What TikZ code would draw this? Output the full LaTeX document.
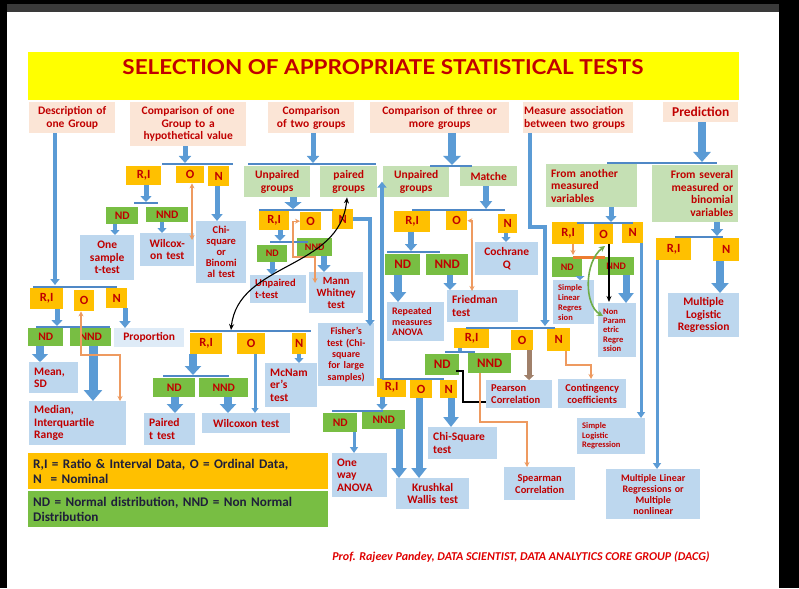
\documentclass[tikz,border=0pt]{standalone}
\usepackage{fontspec}
\setmainfont{Carlito}
\newfontfamily\titlefont{Lato}
\usetikzlibrary{arrows.meta}
\definecolor{peach}{HTML}{FBE5D6}
\definecolor{org}{HTML}{FFC000}
\definecolor{grn}{HTML}{78BE43}
\definecolor{lgrn}{HTML}{C5E0B4}
\definecolor{lblu}{HTML}{BDD7EE}
\definecolor{llblu}{HTML}{DEEBF7}
\definecolor{dred}{HTML}{C00000}
\definecolor{fred}{HTML}{E00000}
\definecolor{ablu}{HTML}{5B9BD5}
\definecolor{barc}{HTML}{4F88C6}
\definecolor{oar}{HTML}{EE9A60}
\definecolor{obar}{HTML}{ED7D31}
\definecolor{ylw}{HTML}{FFFF00}
\definecolor{brn}{HTML}{A0806A}
\definecolor{legc}{HTML}{1F1F3A}
\definecolor{tgray}{HTML}{3A3A3A}
\definecolor{cgrn}{HTML}{70AD47}
\newcommand\fs[2]{\fontsize{#1}{#2}\selectfont\bfseries}
\tikzset{
  box/.style={draw=none,inner xsep=5pt,inner ysep=0pt,text=dred,font=\fs{11.5}{12.5},align=center},
  bb/.style={box,fill=lblu},
  hb/.style={fill=peach},
  lg/.style={fill=lgrn},
  ob/.style={box,fill=org,font=\fs{12.5}{13}},
  gb/.style={fill=grn,font=\fs{11.5}{12}},
  ab/.style n args={3}{draw=ablu,line width=#1pt,-{Triangle[width=#2pt,length=#3pt]}},
  hbr/.style={draw=barc,line width=2.4pt},
  orar/.style={draw=oar,line width=1.3pt,{Stealth[length=5pt,width=5pt]}-{Stealth[length=5pt,width=5pt]}},
  orar1/.style={draw=oar,line width=1.3pt,-{Stealth[length=5pt,width=5pt]}},
}
\newcommand\mybox[7][]{%
  \pgfmathsetmacro\mybw{#5-#3}\pgfmathsetmacro\mybh{#6-#4}\pgfmathsetmacro\mytw{#5-#3-10}%
  \node[bb,anchor=north west,minimum width=\mybw pt,minimum height=\mybh pt,text width=\mytw pt,#1] (#2) at (#3,#4) {#7};}
\newcommand\lbl[7][]{%
  \pgfmathsetmacro\mybw{#5-#3}\pgfmathsetmacro\mybh{#6-#4}%
  \node[ob,anchor=north west,minimum width=\mybw pt,minimum height=\mybh pt,inner xsep=0pt,#1] (#2) at (#3,#4) {#7};}
\begin{document}
\begin{tikzpicture}[x=1pt,y=-1pt]
\useasboundingbox (0,0) rectangle (799,588);
\fill[black] (0,0) rectangle (799,588);
\fill[white] (7,12) rectangle (779,588);
\fill[tgray] (7,4) rectangle (779,12);
% title
\fill[ylw] (28,52) rectangle (739,100);
\node[text=dred,inner sep=0pt] (title) at (383,67.5) {\resizebox{521pt}{15pt}{\titlefont\bfseries SELECTION OF APPROPRIATE STATISTICAL TESTS}};
% headers
\mybox[hb]{h1}{29}{102}{115}{133}{Description of\\one Group}
\mybox[hb]{h2}{130}{102}{246}{146}{Comparison of one\\Group to a\\hypothetical value}
\mybox[hb]{h3}{268}{102}{354}{133}{Comparison\\of two groups}
\mybox[hb]{h4}{370}{102}{509}{133}{Comparison of three or\\more groups}
\mybox[hb,inner xsep=1pt,text width=108pt,align=left]{h5}{523}{102}{633}{133}{Measure association\\between two groups}
\mybox[hb,font=\fs{13.5}{14}]{h6}{663}{102}{738}{122}{Prediction}
% column 1
\lbl{c1RI}{30}{288}{63}{309}{R,I}
\lbl{c1O}{74}{290}{94}{311}{O}
\lbl{c1N}{106}{288}{127}{308}{N}
\lbl[gb]{c1ND}{28}{328}{63}{346}{ND}
\lbl[gb]{c1NND}{70}{328}{111}{346}{NND}
\mybox[fill=llblu]{c1P}{114}{328}{184}{347}{Proportion}
\mybox[align=left]{c1M}{29}{362}{78}{393}{Mean,\\SD}
\mybox[align=left]{c1Med}{29}{401}{126}{445}{Median,\\Interquartile\\Range}
% column 2
\lbl{c2RI}{126}{166}{161}{185}{R,I}
\lbl{c2O}{176}{166}{204}{183}{O}
\lbl{c2N}{208}{166}{229}{186}{N}
\lbl[gb]{c2ND}{106}{207}{138}{224}{ND}
\lbl[gb]{c2NND}{146}{207}{188}{222}{NND}
\mybox{c2One}{80}{235}{134}{280}{One\\sample\\t-test}
\mybox{c2Wil}{140}{233}{194}{266}{Wilcox-\\on test}
\mybox[font=\fs{10.5}{11}]{c2Chi}{196}{221}{246}{283}{Chi-\\square\\or\\Binomi\\al test}
% column 3
\mybox[lg]{c3Un}{244}{166}{310}{197}{Unpaired\\groups}
\mybox[lg]{c3Pa}{320}{166}{377}{197}{paired\\groups}
\lbl{c3RI}{259}{210}{289}{230}{R,I}
\lbl{c3O}{300}{212}{321}{230}{O}
\lbl{c3N}{332}{209}{353}{229}{N}
\lbl[gb,font=\fs{10}{11}]{c3ND}{257}{245}{287}{262}{ND}
\lbl[gb,font=\fs{10}{11}]{c3NND}{297}{238}{332}{256}{NND}
\mybox[align=left,font=\fs{10.5}{12}]{c3Ut}{250}{275}{306}{303}{Unpaired\\t-test}
\mybox[font=\fs{11}{12}]{c3MW}{309}{272}{363}{313}{Mann\\Whitney\\test}
\mybox[font=\fs{10}{11.3}]{c3Fi}{318}{323}{374}{386}{Fisher's\\test (Chi-\\square\\for large\\samples)}
\lbl{c3pRI}{190}{333}{222}{354}{R,I}
\lbl{c3pO}{237}{333}{265}{354}{O}
\lbl{c3pN}{292}{333}{306}{354}{N}
\lbl[gb]{c3pND}{153}{378}{195}{397}{ND}
\lbl[gb]{c3pNND}{199}{378}{248}{397}{NND}
\mybox[align=left]{c3pPt}{144}{413}{195}{445}{Paired\\t test}
\mybox{c3pWil}{202}{413}{290}{433}{Wilcoxon test}
\mybox[align=left]{c3pMc}{265}{363}{317}{407}{McNam\\er's\\test}
% column 4
\mybox[lg]{c4Un}{383}{166}{449}{197}{Unpaired\\groups}
\mybox[lg]{c4Ma}{460}{166}{517}{186}{Matche}
\lbl{c4RI}{394}{211}{430}{232}{R,I}
\lbl{c4O}{446}{211}{467}{230}{O}
\lbl{c4N}{498}{214}{517}{233}{N}
\mybox{c4Co}{475}{242}{538}{275}{Cochrane\\Q}
\lbl[gb,font=\fs{13}{14}]{c4ND}{385}{254}{420}{275}{ND}
\lbl[gb,font=\fs{13}{14}]{c4NND}{426}{254}{468}{275}{NND}
\mybox[align=left,font=\fs{10}{10.5}]{c4Rep}{387}{302}{444}{341}{Repeated\\measures\\ANOVA}
\mybox[align=left]{c4Fr}{447}{290}{518}{322}{Friedman\\test}
\lbl{c4uRI}{377}{378}{406}{397}{R,I}
\lbl{c4uO}{410}{380}{432}{398}{O}
\lbl{c4uN}{440}{380}{457}{398}{N}
\lbl[gb]{c4uND}{323}{413}{357}{432}{ND}
\lbl[gb]{c4uNND}{362}{410}{405}{429}{NND}
\mybox[align=left]{c4uOne}{332}{453}{387}{497}{One\\way\\ANOVA}
\mybox{c4uKW}{396}{478}{469}{509}{Krushkal\\Wallis test}
\mybox[align=left]{c4uChi}{428}{427}{497}{459}{Chi-Square\\test}
% column 5
\lbl{c5RI}{454}{328}{489}{348}{R,I}
\lbl{c5O}{511}{330}{533}{350}{O}
\lbl{c5N}{547}{328}{570}{351}{N}
\lbl[gb,font=\fs{13}{14}]{c5ND}{425}{354}{459}{375}{ND}
\lbl[gb,font=\fs{13}{14}]{c5NND}{468}{353}{511}{373}{NND}
\mybox[align=left,font=\fs{10.5}{12}]{c5Pe}{486}{380}{552}{408}{Pearson\\Correlation}
\mybox[font=\fs{10.5}{12}]{c5Sp}{504}{467}{575}{500}{Spearman\\Correlation}
\mybox[font=\fs{10.5}{12}]{c5Co}{558}{379}{626}{408}{Contingency\\coefficients}
% prediction
\mybox[lg,align=left]{p1}{546}{164}{637}{207}{From another\\measured\\variables}
\mybox[lg,align=right]{p2}{652}{165}{738}{222}{From several\\measured or\\binomial\\variables}
\lbl{pRI}{552}{222}{584}{244}{R,I}
\lbl{pO}{594}{224}{613}{244}{O}
\lbl{pN}{622}{222}{643}{243}{N}
\lbl[gb,font=\fs{10}{11}]{pND}{552}{257}{582}{277}{ND}
\lbl[gb,font=\fs{10}{11}]{pNND}{598}{257}{634}{275}{NND}
\mybox[align=left,font=\fs{8.5}{10}]{pSLR}{553}{280}{594}{324}{Simple\\Linear\\Regres\\sion}
\mybox[align=left,font=\fs{8.5}{9.3}]{pNP}{598}{303}{636}{357}{Non\\Param\\etric\\Regre\\ssion}
\mybox[align=left,font=\fs{8.5}{9.5}]{pSLog}{577}{418}{645}{454}{Simple\\Logistic\\Regression}
\lbl{p2RI}{656}{238}{691}{260}{R,I}
\lbl{p2N}{713}{238}{739}{261}{N}
\mybox{pMLog}{668}{293}{739}{337}{Multiple\\Logistic\\Regression}
\mybox[font=\fs{10}{11}]{pMLin}{606}{469}{700}{519}{Multiple Linear\\Regressions or\\Multiple\\nonlinear}
% legend
\node[fill=org,anchor=north west,minimum width=300pt,minimum height=36pt,text width=290pt,inner xsep=5pt,inner ysep=0pt,align=left,font=\fs{13.2}{14.5},text=legc] (L1) at (28,453) {R,I = Ratio \& Interval Data, O = Ordinal Data,\\N\ \ = Nominal};
\node[fill=grn,anchor=north west,minimum width=300pt,minimum height=36pt,text width=290pt,inner xsep=5pt,inner ysep=0pt,align=left,font=\fs{13.2}{14.5},text=legc] (L2) at (28,491) {ND = Normal distribution, NND = Non Normal\\Distribution};
\node[font=\fontsize{12}{14}\selectfont\bfseries\itshape,text=fred] (foot) at (521,557) {Prof. Rajeev Pandey, DATA SCIENTIST, DATA ANALYTICS CORE GROUP (DACG)};
% ---- connectors column 1
\draw[ab={3.5}{9}{6}] (55,0 |- h1.south) -- (55,285);
\draw[hbr] (33,287) -- (117,287);
\draw[ab={5}{11}{6}] (57,0 |- c1RI.south) -- (57,326);
\draw[hbr] (36,327) -- (110,327);
\draw[ab={5}{11}{7}] (125,0 |- c1N.south) -- (125,0 |- c1P.north);
\draw[ab={8}{16}{8}] (40,0 |- c1ND.south) -- (40,0 |- c1M.north);
\draw[ab={9}{18}{11}] (93,0 |- c1NND.south) -- (93,0 |- c1Med.north);
\draw[orar] (81,0 |- c1O.south) -- (81,355) -- (120,355) -- (120,0 |- c1Med.north);
% column 2
\draw[ab={5}{12}{7}] (185,0 |- h2.south) -- (185,163);
\draw[hbr] (162,164) -- (233,164);
\draw[ab={5}{11}{6}] (146,0 |- c2RI.south) -- (146,202);
\draw[hbr] (134,203) -- (158,203);
\draw[ab={4}{9}{5}] (115,0 |- c2ND.south) -- (115,0 |- c2One.north);
\draw[ab={4}{9}{5}] (162,0 |- c2NND.south) -- (162,0 |- c2Wil.north);
\draw[ab={5}{11}{7}] (217,0 |- c2N.south) -- (217,0 |- c2Chi.north);
\draw[orar] (192,0 |- c2O.south) -- (192,240);
% column 3
\draw[ab={5}{12}{7}] (313,0 |- h3.south) -- (313,163);
\draw[hbr] (248,164) -- (376,164);
\draw[ab={7}{17}{7}] (293,0 |- c3Un.south) -- (293,209);
\draw[hbr] (259,210) -- (333,210);
\draw[ab={5}{11}{6}] (280,0 |- c3RI.south) -- (280,241);
\draw[hbr] (270,242) -- (308,242);
\draw[ab={5}{11}{6}] (272,0 |- c3ND.south) -- (272,0 |- c3Ut.north);
\draw[ab={6}{13}{7}] (324,0 |- c3NND.south) -- (324,0 |- c3MW.north);
\draw[orar] (c3O.west) -- (293,0 |- c3O.west) -- (293,257) -- (315,257) -- (315,283);
\draw[ab={3.5}{9}{6}] (c3N.east) -- (370,0 |- c3N.east) -- (370,326);
\draw[hbr] (190,331) -- (311,331);
\draw[line width=1.1pt,{Stealth[length=6pt,width=5pt]}-{Stealth[length=6pt,width=5pt]}] (231,330) .. controls (238,262) and (340,270) .. (347,0 |- c3Pa.south);
\draw[ab={8}{16}{9}] (193,0 |- c3pRI.south) -- (193,375);
\draw[hbr] (163,376) -- (229,376);
\draw[ab={8}{16}{9}] (175,0 |- c3pND.south) -- (175,0 |- c3pPt.north);
\draw[ab={8}{16}{9}] (228,0 |- c3pNND.south) -- (228,0 |- c3pWil.north);
\draw[ab={3}{7}{5}] (255,0 |- c3pO.south) -- (255,0 |- c3pWil.north);
\draw[ab={4}{9}{5}] (299,0 |- c3pN.south) -- (299,0 |- c3pMc.north);
% column 4
\draw[ab={8}{17}{9}] (452,0 |- h4.south) -- (452,165);
\draw[hbr] (430,166) -- (472,166);
\draw[ab={6}{12}{8}] (486,0 |- c4Ma.south) -- (486,209);
\draw[hbr] (412,210) -- (505,210);
\draw[ab={4}{9}{5}] (506,0 |- c4N.south) -- (506,0 |- c4Co.north);
\draw[ab={6}{12}{7}] (411,0 |- c4RI.south) -- (411,251);
\draw[hbr] (387,252) -- (440,252);
\draw[ab={8}{16}{10}] (398,0 |- c4ND.south) -- (398,0 |- c4Rep.north);
\draw[ab={6}{13}{7}] (450,0 |- c4NND.south) -- (450,0 |- c4Fr.north);
\draw[orar] (c4O.east) -- (472,0 |- c4O.east) -- (472,291);
\draw[ab={3.5}{9}{6}] (382,379) -- (382,0 |- c4Un.west);
\draw[hbr] (382,379) -- (444,379);
\draw[ab={5}{11}{6}] (382,0 |- c4uRI.south) -- (382,410);
\draw[hbr] (332,411) -- (383,411);
\draw[ab={3}{8}{6}] (354,0 |- c4uND.south) -- (354,0 |- c4uOne.north);
\draw[ab={7}{15}{10}] (399,0 |- c4uNND.south) -- (399,0 |- c4uKW.north);
\draw[ab={7}{15}{10}] (419,0 |- c4uO.south) -- (419,0 |- c4uKW.north);
\draw[ab={7}{15}{10}] (451,0 |- c4uN.south) -- (451,0 |- c4uChi.north);
% column 5
\draw[ab={3.5}{9}{6}] (530,0 |- h5.south) -- (530,227) -- (545,227) -- (545,326);
\draw[hbr] (466,328) -- (555,328);
\draw[draw=ablu,line width=4pt] (460,0 |- c5RI.south) -- (460,352);
\draw[hbr] (445,352) -- (475,352);
\draw[line width=1.2pt] (456,371) -- (463,371) -- (463,402) -- (c5Pe.west |- 0,402);
\draw[draw=brn,line width=5pt,-{Triangle[width=10pt,length=5pt]}] (529,0 |- c5O.south) -- (529,0 |- c5Pe.north);
\draw[orar1] (480,0 |- c5NND.south) -- (480,422) -- (527,422) -- (527,0 |- c5Sp.north);
\draw[orar1] (566,0 |- c5N.south) -- (566,365) -- (591,365) -- (591,0 |- c5Co.north);
% prediction
\draw[ab={8}{17}{10}] (702,0 |- h6.south) -- (702,162);
\draw[hbr] (607,163) -- (717,163);
\draw[ab={5}{11}{6}] (611,0 |- p1.south) -- (611,222);
\draw[hbr] (577,223) -- (633,223);
\draw[orar1] (573,0 |- pRI.south) -- (573,255);
\draw[draw=obar,line width=3pt] (573,257) -- (605,257);
\draw[ab={4}{9}{4}] (580,0 |- pND.south) -- (580,0 |- pSLR.north);
\draw[ab={7}{15}{10}] (626,0 |- pNND.south) -- (626,0 |- pNP.north);
\draw[line width=1.1pt,-{Stealth[length=6pt,width=5pt]}] (609,0 |- pO.south) -- (609,302);
\draw[draw=cgrn,line width=1.6pt,{Stealth[length=6pt,width=6pt]}-{Stealth[length=6pt,width=6pt]}] (605,246) .. controls (584,262) and (584,305) .. (603,316);
\draw[ab={3}{8}{6}] (641,0 |- pN.south) -- (641,0 |- pSLog.north);
\draw[ab={6}{12}{7}] (717,0 |- p2.south) -- (717,236);
\draw[hbr] (675,237) -- (723,237);
\draw[ab={8}{17}{10}] (720,0 |- p2N.south) -- (720,0 |- pMLog.north);
\draw[ab={3}{8}{6}] (657,0 |- p2RI.south) -- (657,0 |- pMLin.north);
\end{tikzpicture}
\end{document}
